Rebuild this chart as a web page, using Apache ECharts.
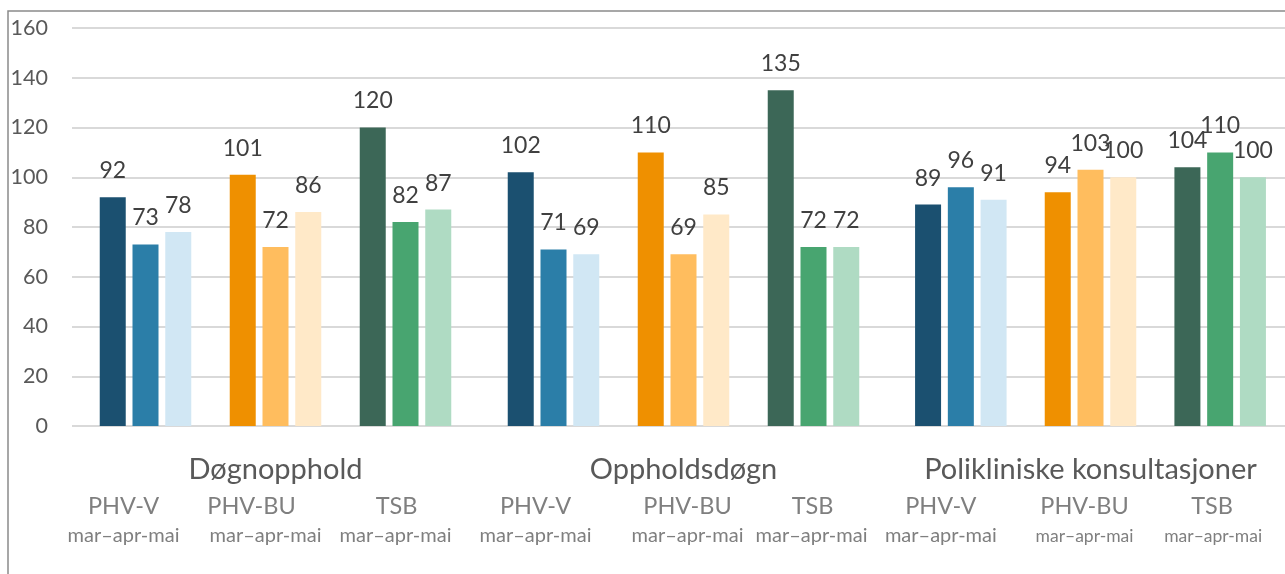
<!DOCTYPE html>
<html>
<head>
<meta charset="utf-8">
<script src="https://cdn.jsdelivr.net/npm/echarts@6/dist/echarts.min.js"></script>
<style>
html,body{margin:0;padding:0;background:#fff;}
#chart{width:1285px;height:574px;}
</style>
</head>
<body>
<div id="chart"></div>
<script>
// ---- data ----
const groups = ['Døgnopphold', 'Oppholdsdøgn', 'Polikliniske konsultasjoner'];
const units = ['PHV-V', 'PHV-BU', 'TSB'];
const periodText = 'mar–apr-mai';
const months = ['mar', 'apr', 'mai'];
// values per group: [PHV-V, PHV-BU, TSB]
const marValues = [[92, 101, 120], [102, 110, 135], [89, 94, 104]];
const aprValues = [[73, 72, 82], [71, 69, 72], [96, 103, 110]];
const maiValues = [[78, 86, 87], [69, 85, 72], [91, 100, 100]];
const yMin = 0, yMax = 160, yStep = 20;

// ---- styles ----
const unitColors = {
  'PHV-V': ['#1b5070', '#2b7ea8', '#d1e7f4'],
  'PHV-BU': ['#ef9000', '#ffbd5e', '#ffe9c8'],
  'TSB': ['#3c6757', '#48a570', '#afdbc3']
};
// horizontal offsets of the hand-placed unit labels (top line, bottom line), px
const labelShift = [
  [[-22, -22], [-24, -10], [-9, -10]],
  [[-18, -18], [4, 4], [-1, -2]],
  [[-20, -20], [-6, -6], [-8, -7]]
];
const periodFontSize = [[20, 20, 20], [20, 20, 20], [20, 17.5, 17.5]];
const gridLefts = [80.5, 488.5, 896];
const FONT = 'Lato, "Noto Sans", sans-serif';
const monthValues = [marValues, aprValues, maiValues];

function pad(dx) { return dx < 0 ? [0, -2 * dx, 0, 0] : [0, 0, 0, 2 * dx]; }

const grids = [{ left: 72, right: 0, top: 28, bottom: 148 }];
const xAxes = [{ gridIndex: 0, type: 'category', data: [''], show: false }];
const yAxes = [{
  gridIndex: 0, type: 'value', min: yMin, max: yMax, interval: yStep,
  axisLine: { show: false }, axisTick: { show: false },
  axisLabel: { color: '#595959', fontSize: 21.5, fontFamily: FONT, margin: 24 },
  splitLine: { lineStyle: { color: '#d9d9d9', width: 2 } }
}];
const series = [];

groups.forEach((g, gi) => {
  grids.push({ left: gridLefts[gi], width: 390, top: 28, bottom: 148 });
  const rich = {};
  units.forEach((u, ui) => {
    rich['a' + ui] = { fontSize: 23.5, lineHeight: 28, color: '#7f7f7f', fontFamily: FONT, padding: pad(labelShift[gi][ui][0]) };
    rich['b' + ui] = { fontSize: periodFontSize[gi][ui], lineHeight: 32, color: '#7f7f7f', fontFamily: FONT, padding: pad(labelShift[gi][ui][1]) };
  });
  xAxes.push({
    gridIndex: gi + 1, type: 'category', data: units,
    axisLine: { show: false }, axisTick: { show: false },
    axisLabel: {
      interval: 0, margin: 66, rich: rich,
      formatter: (v, i) => '{a' + i + '|' + v + '}\n{b' + i + '|' + periodText + '}'
    },
    name: g, nameLocation: 'middle', nameGap: 29, nameMoveOverlap: false,
    nameTextStyle: { fontSize: 29, color: '#595959', fontFamily: FONT }
  });
  yAxes.push({ gridIndex: gi + 1, type: 'value', min: yMin, max: yMax, interval: yStep, show: false, splitLine: { show: false } });
  months.forEach((m, mi) => {
    series.push({
      name: m, type: 'bar', xAxisIndex: gi + 1, yAxisIndex: gi + 1,
      barWidth: 26, barGap: '26%',
      data: monthValues[mi][gi].map((v, ui) => ({ value: v, itemStyle: { color: unitColors[units[ui]][mi] } })),
      label: { show: true, position: 'top', distance: 15, fontSize: 23, color: '#404040', fontFamily: FONT },
      emphasis: { disabled: true }
    });
  });
});

const chart = echarts.init(document.getElementById('chart'), null, { renderer: 'canvas' });
chart.setOption({
  animation: false,
  backgroundColor: '#ffffff',
  grid: grids, xAxis: xAxes, yAxis: yAxes, series: series,
  graphic: [{
    type: 'rect', silent: true, z: 100,
    shape: { x: 8, y: 11, width: 1400, height: 700 },
    style: { fill: 'none', stroke: '#8a8a8a', lineWidth: 1.5 }
  }]
});
</script>
</body>
</html>
